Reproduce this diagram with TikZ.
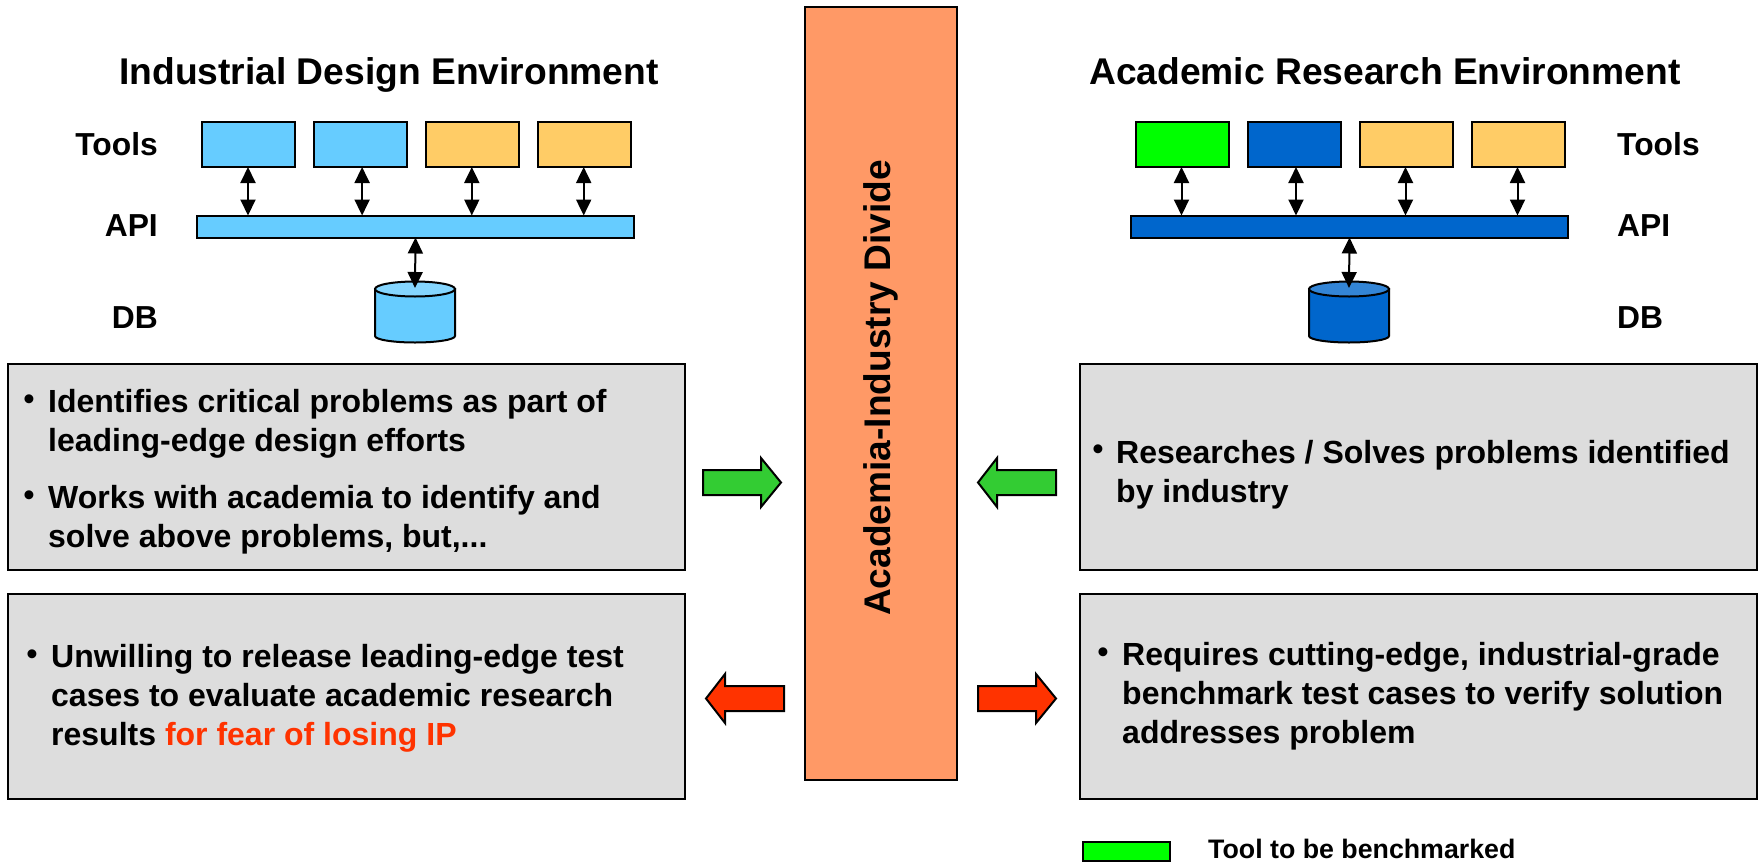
\documentclass[tikz,border=0pt]{standalone}
\usepackage{fontspec}
\setmainfont{Liberation Sans}[BoldFont={Liberation Sans Bold}]
\usetikzlibrary{arrows.meta,calc}
\definecolor{lblue}{HTML}{66CCFF}
\definecolor{lbluetop}{HTML}{85D6FF}
\definecolor{dblue}{HTML}{0066CC}
\definecolor{dbluetop}{HTML}{3385D6}
\definecolor{tan}{HTML}{FFCC66}
\definecolor{lime}{HTML}{00FF00}
\definecolor{panel}{HTML}{DDDDDD}
\definecolor{divide}{HTML}{FF9966}
\definecolor{garrow}{HTML}{33CC33}
\definecolor{rarrow}{HTML}{FF3300}
\tikzset{
  x=1pt,y=-1pt,
  outl/.style={draw=black,line width=2pt,line join=miter},
  box/.style={outl,anchor=north west,inner sep=0pt,minimum width=93pt,minimum height=45pt},
  bar/.style={outl,anchor=north west,inner sep=0pt,minimum width=437pt,minimum height=22pt},
  panelbox/.style={outl,fill=panel,anchor=north west,inner sep=0pt,minimum width=677pt},
  link/.style={line width=2pt,{Triangle[length=16pt,width=15pt]}-{Triangle[length=16pt,width=15pt]},shorten <=-1pt,shorten >=-1pt},
  title/.style={anchor=base west,inner sep=0pt,font=\fontsize{37.2}{40}\selectfont\bfseries},
  side/.style={inner sep=0pt,font=\fontsize{31.8}{36}\selectfont\bfseries},
  bodytext/.style={anchor=north west,inner sep=0pt,align=left,font=\fontsize{32}{39}\selectfont\bfseries},
  bul/.style={anchor=center,inner sep=0pt,font=\fontsize{31}{34}\selectfont\bfseries},
  blockarrow/.style={outl},
}
\begin{document}
\begin{tikzpicture}
\useasboundingbox (0,0) rectangle (1760,862);
% central band
\node[outl,fill=divide,anchor=north west,inner sep=0pt,minimum width=152pt,minimum height=773pt] (band) at (804,6) {};
\node[rotate=90,inner sep=0pt,font=\fontsize{37.1}{40}\selectfont\bfseries] (bandtext) at (881,388) {Academia-Industry Divide};
% titles
\node[title] (ltitle) at (119,84) {Industrial Design Environment};
\node[title] (rtitle) at (1089,84) {Academic Research Environment};
% left side labels
\node[side,anchor=base east] (ltools) at (158,155) {Tools};
\node[side,anchor=base east] (lapi) at (158,236) {API};
\node[side,anchor=base east] (ldb) at (158,328) {DB};
% right side labels
\node[side,anchor=base west] (rtools) at (1617,155) {Tools};
\node[side,anchor=base west] (rapi) at (1617,236) {API};
\node[side,anchor=base west] (rdb) at (1617,328) {DB};
% left stack
\node[box,fill=lblue] (l1) at (201,121) {};
\node[box,fill=lblue] (l2) at (313,121) {};
\node[box,fill=tan] (l3) at (425,121) {};
\node[box,fill=tan] (l4) at (537,121) {};
\node[bar,fill=lblue] (lbar) at (196,214.5) {};
\draw[link] ([xshift=-0.5pt]l1.south) -- ([xshift=-0.5pt]l1.south |- lbar.north);
\draw[link] ([xshift=1.6pt]l2.south) -- ([xshift=1.6pt]l2.south |- lbar.north);
\draw[link] ([xshift=-0.7pt]l3.south) -- ([xshift=-0.7pt]l3.south |- lbar.north);
\draw[link] ([xshift=-0.8pt]l4.south) -- ([xshift=-0.8pt]l4.south |- lbar.north);
% left cylinder
\draw[outl,fill=lblue] (375,289) -- (375,336) arc[start angle=180,end angle=360,x radius=40pt,y radius=6.5pt] -- (455,289) -- cycle;
\draw[outl,fill=lbluetop] (415,289) ellipse[x radius=40pt,y radius=7.5pt];
\coordinate (ldbtop) at (415,287);
\draw[link] (lbar.south) -- (ldbtop);
% right stack
\node[box,fill=lime] (r1) at (1135,121) {};
\node[box,fill=dblue] (r2) at (1247,121) {};
\node[box,fill=tan] (r3) at (1359,121) {};
\node[box,fill=tan] (r4) at (1471,121) {};
\node[bar,fill=dblue] (rbar) at (1130,214.5) {};
\draw[link] ([xshift=-1pt]r1.south) -- ([xshift=-1pt]r1.south |- rbar.north);
\draw[link] ([xshift=1.5pt]r2.south) -- ([xshift=1.5pt]r2.south |- rbar.north);
\draw[link] ([xshift=-1pt]r3.south) -- ([xshift=-1pt]r3.south |- rbar.north);
\draw[link] ([xshift=-1pt]r4.south) -- ([xshift=-1pt]r4.south |- rbar.north);
% right cylinder
\draw[outl,fill=dblue] (1309,289) -- (1309,336) arc[start angle=180,end angle=360,x radius=40pt,y radius=6.5pt] -- (1389,289) -- cycle;
\draw[outl,fill=dbluetop] (1349,289) ellipse[x radius=40pt,y radius=7.5pt];
\coordinate (rdbtop) at (1349,287);
\draw[link] (rbar.south) -- (rdbtop);
% panels
\node[panelbox,minimum height=206pt] (p1) at (7,363) {};
\node[panelbox,minimum height=205pt] (p2) at (7,593) {};
\node[panelbox,minimum height=206pt] (p3) at (1079,363) {};
\node[panelbox,minimum height=205pt] (p4) at (1079,593) {};
% panel text
\node[bul] (b1) at (29,402) {•};
\node[bodytext] (t1) at (48,389.5) {Identifies critical problems as part of\\leading-edge design efforts};
\node[bul] (b2) at (29,498) {•};
\node[bodytext] (t2) at (48,485.5) {Works with academia to identify and\\solve above problems, but,...};
\node[bul] (b3) at (32,657) {•};
\node[bodytext] (t3) at (51,644) {Unwilling to release leading-edge test\\cases to evaluate academic research\\results {\color{rarrow}for fear of losing IP}};
\node[bul] (b4) at (1098,452) {•};
\node[bodytext] (t4) at (1116,440) {Researches / Solves problems identified\\by industry};
\node[bul] (b5) at (1103,655) {•};
\node[bodytext] (t5) at (1122,642.5) {Requires cutting-edge, industrial-grade\\benchmark test cases to verify solution\\addresses problem};
% block arrows
\draw[blockarrow,fill=garrow] (703,470) -- (761,470) -- (761,458) -- (781,482.5) -- (761,507) -- (761,495) -- (703,495) -- cycle;
\draw[blockarrow,fill=garrow] (1056,470) -- (997,470) -- (997,458) -- (978,482.5) -- (997,507) -- (997,495) -- (1056,495) -- cycle;
\draw[blockarrow,fill=rarrow] (784,686) -- (725,686) -- (725,674) -- (706,698.5) -- (725,723) -- (725,711) -- (784,711) -- cycle;
\draw[blockarrow,fill=rarrow] (978,686) -- (1036,686) -- (1036,674) -- (1056,698.5) -- (1036,723) -- (1036,711) -- (978,711) -- cycle;
% legend
\node[outl,fill=lime,anchor=north west,inner sep=0pt,minimum width=87pt,minimum height=19pt] (legbox) at (1082,841) {};
\node[anchor=base west,inner sep=0pt,font=\fontsize{26.75}{28}\selectfont\bfseries] (legtext) at (1208,858) {Tool to be benchmarked};
\end{tikzpicture}
\end{document}
